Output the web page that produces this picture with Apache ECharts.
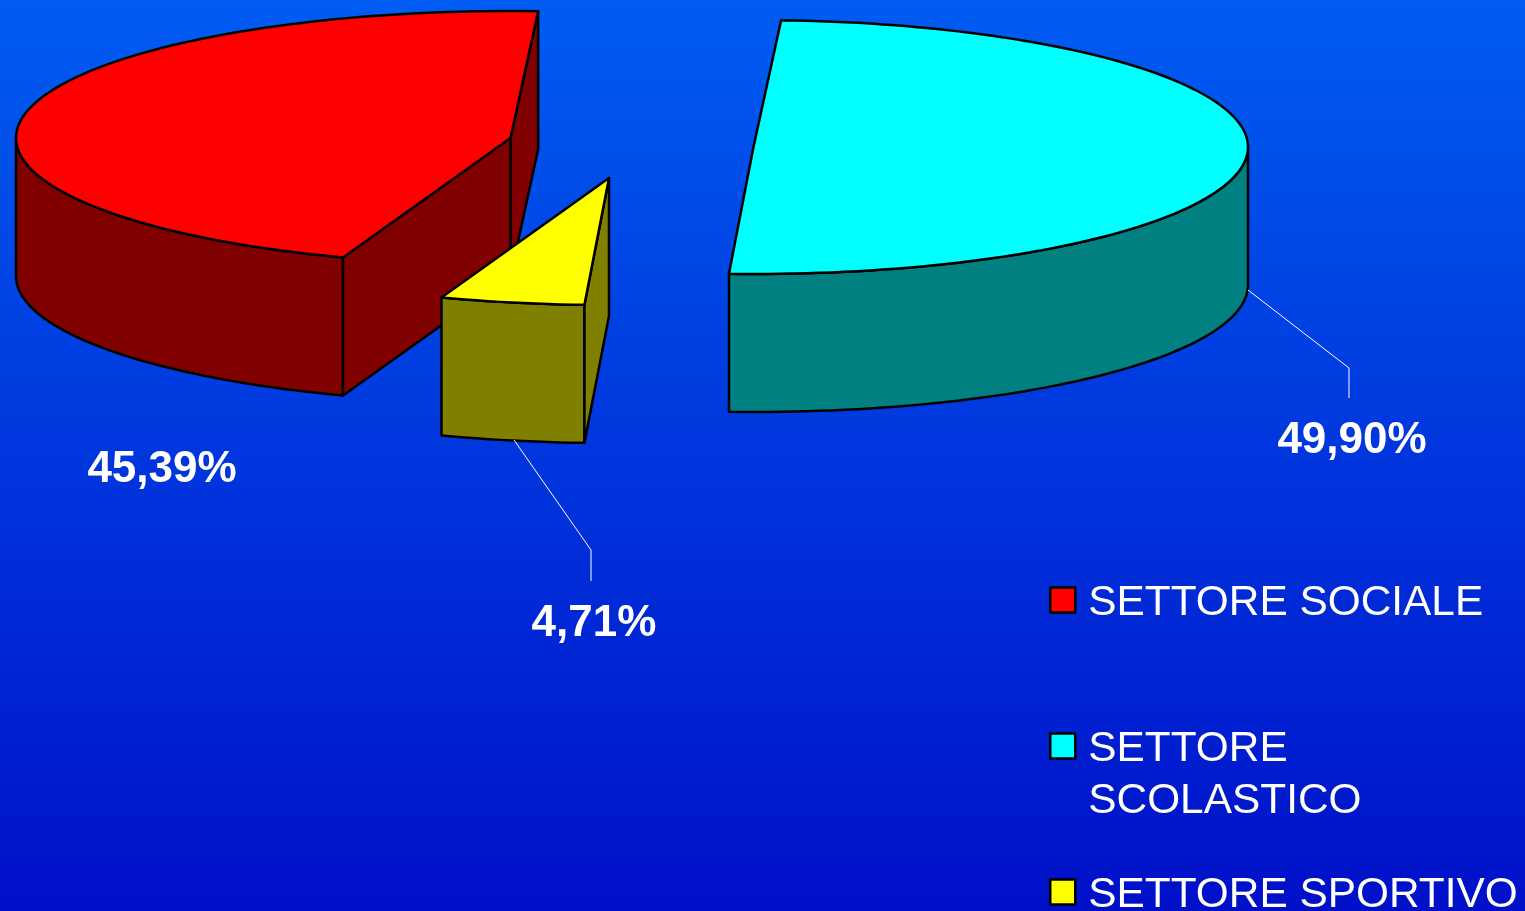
<!DOCTYPE html>
<html>
<head>
<meta charset="utf-8">
<style>html,body{margin:0;padding:0;background:#0030d8}#c{width:1525px;height:911px}</style>
<script src="https://cdn.jsdelivr.net/npm/echarts@6/dist/echarts.min.js"></script>
</head>
<body>
<div id="c"></div>
<script>
// Data
const categories = ['SETTORE SOCIALE', 'SETTORE SCOLASTICO', 'SETTORE SPORTIVO'];
const shares = [45.39, 49.90, 4.71];
const valueLabels = ['45,39%', '49,90%', '4,71%'];

// Colours
const topColors = ['#ff0000', '#00ffff', '#ffff00'];
const sideColors = ['#800000', '#008080', '#808000'];

// Layout of the tilted pie (no data here)
const RX = 494.5, RY = 127, DEPTH = 138, START_DEG = 109.8;
const centers = [[510.5, 138], [753.5, 147], [609, 178]];
const labelPos = [[162, 470], [1352, 440.5], [594, 623.5]];
const leaders = [null, [[1248, 290], [1349, 368], [1349, 398]], [[514, 440], [591, 550], [591, 581]]];

const chart = echarts.init(document.getElementById('c'), null, { renderer: 'canvas' });
const rad = d => d * Math.PI / 180;

function makeRender(idx) {
  return function (params, api) {
    const value = api.value(0);
    const total = shares.reduce((a, b) => a + b, 0);
    let t0 = START_DEG;
    for (let i = 0; i < idx; i++) t0 += shares[i] / total * 360;
    const t1 = t0 + value / total * 360;
    const [cx, cy] = centers[idx];
    const pt = (t, d) => [cx + RX * Math.cos(rad(t)), cy + RY * Math.sin(rad(t)) + (d || 0)];
    const arc = (a, b, d) => {
      const n = Math.max(2, Math.ceil(Math.abs(b - a) / 1.5));
      const out = [];
      for (let i = 0; i <= n; i++) out.push(pt(a + (b - a) * i / n, d));
      return out;
    };
    const poly = (points, fill) => ({
      type: 'polygon', shape: { points },
      style: { fill, stroke: '#000', lineWidth: 2.5, lineJoin: 'round' }
    });
    const children = [];
    const side = sideColors[idx];
    const apex = [cx, cy], apexB = [cx, cy + DEPTH];

    // Outer wall: the parts of the rim facing the viewer
    for (let k = 0; k <= 2; k++) {
      const a = Math.max(t0, k * 360), b = Math.min(t1, k * 360 + 180);
      if (b > a) children.push(poly(arc(a, b, 0).concat(arc(b, a, DEPTH)), side));
    }
    // Cut walls, back one first
    const cuts = [];
    if (Math.sin(rad(t1 + 90)) > 0) cuts.push(t1);
    if (Math.sin(rad(t0 - 90)) > 0) cuts.push(t0);
    cuts.sort((a, b) => Math.sin(rad(a)) - Math.sin(rad(b)));
    cuts.forEach(t => children.push(poly([apex, pt(t, 0), pt(t, DEPTH), apexB], side)));
    // Top face
    children.push(poly([apex].concat(arc(t0, t1, 0)), topColors[idx]));

    // Leader line
    if (leaders[idx]) {
      children.push({
        type: 'polyline', shape: { points: leaders[idx] },
        style: { fill: null, stroke: '#ffffff', lineWidth: 1 }
      });
    }
    // Value label
    children.push({
      type: 'text',
      style: {
        text: valueLabels[idx], x: labelPos[idx][0], y: labelPos[idx][1],
        fill: '#ffffff', font: 'bold 44px "Liberation Sans", Arial, sans-serif',
        align: 'center', verticalAlign: 'middle'
      }
    });
    return { type: 'group', children };
  };
}

chart.setOption({
  animation: false,
  backgroundColor: {
    type: 'linear', x: 0, y: 0, x2: 0, y2: 1,
    colorStops: [{ offset: 0, color: '#005cf2' }, { offset: 1, color: '#0010c8' }]
  },
  legend: {
    orient: 'vertical', left: 1049, top: 577, height: 400, padding: 0,
    itemWidth: 25, itemHeight: 31, itemGap: 42,
    // square sitting in the upper part of the item box, level with the first text line
    icon: 'path://M0 0H25V25H0Z M0 31L0 31',
    selectedMode: false,
    data: categories,
    itemStyle: { borderColor: '#000', borderWidth: 2.5 },
    formatter: n => n === categories[1] ? '\n' + n.replace(' ', '\n') : n,
    textStyle: {
      color: '#ffffff', fontSize: 42.4, lineHeight: 52,
      fontFamily: '"Liberation Sans", Arial, sans-serif',
      padding: [0, 0, 0, 8]
    }
  },
  series: categories.map((name, i) => ({
    type: 'custom', name, coordinateSystem: 'none', silent: true, clip: false,
    itemStyle: { color: topColors[i] },
    renderItem: makeRender(i),
    data: [[shares[i]]]
  }))
});
</script>
</body>
</html>
